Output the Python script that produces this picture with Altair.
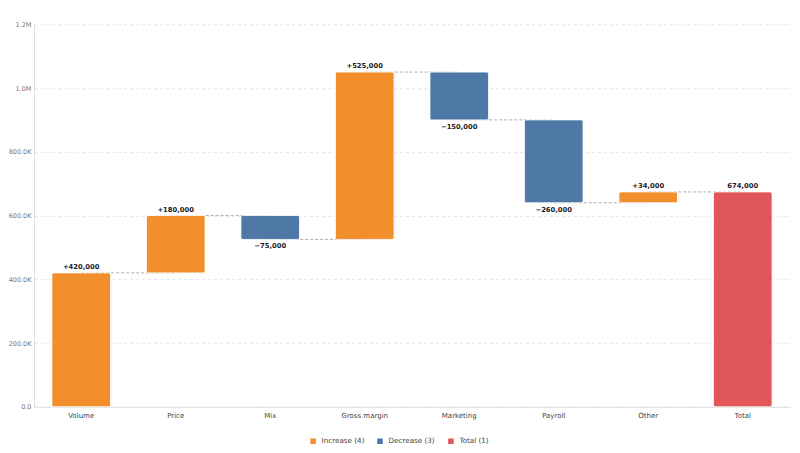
import altair as alt
import pandas as pd

categories = ["Volume", "Price", "Mix", "Gross margin", "Marketing", "Payroll", "Other", "Total"]
amounts = [420000, 180000, -75000, 525000, -150000, -260000, 34000, 674000]
kinds = ["Increase", "Increase", "Decrease", "Increase", "Decrease", "Decrease", "Increase", "Total"]
y_ticks = [0, 200000, 400000, 600000, 800000, 1000000, 1200000]

counts = {k: kinds.count(k) for k in ["Increase", "Decrease", "Total"]}
legend_names = {k: f"{k} ({counts[k]})" for k in counts}

rows = []
running = 0
for i, (c, a, k) in enumerate(zip(categories, amounts, kinds)):
    if k == "Total":
        start, end = 0, a
        label = f"{a:,}"
    else:
        start, end = running, running + a
        running = end
        label = f"+{a:,}" if a >= 0 else f"\u2212{abs(a):,}"
    nxt = categories[i + 1] if i + 1 < len(categories) else None
    rows.append(dict(cat=c, start=start, end=end, kind=k, legend=legend_names[k],
                     label=label, top=max(start, end), bottom=min(start, end),
                     up=(k != "Decrease"), nxt=nxt))
df = pd.DataFrame(rows)

FONT = "DejaVu Sans"
order = categories
leg_domain = [legend_names["Increase"], legend_names["Decrease"], legend_names["Total"]]
leg_range = ["#F28E2B", "#4E79A7", "#E15759"]

x = alt.X("cat:N", sort=order, title=None,
          scale=alt.Scale(paddingInner=0.38, paddingOuter=0.19),
          axis=alt.Axis(labelAngle=0, labelAlign="center", ticks=False, domainColor="#dddddd",
                        labelColor="#444444", labelFontSize=7, labelFont=FONT, labelPadding=9))

base = alt.Chart(df)

conn = base.transform_filter("datum.nxt != null").mark_rule(
    color="#999999", strokeDash=[3, 2], strokeWidth=0.8
).encode(
    x=alt.X("cat:N", sort=order),
    x2=alt.X2("nxt:N"),
    y=alt.Y("end:Q"),
)

bars = base.mark_bar(cornerRadius=2, stroke="#ffffff", strokeWidth=0.8).encode(
    x=x,
    y=alt.Y("start:Q", title=None,
            scale=alt.Scale(domain=[0, 1200000], nice=False),
            axis=alt.Axis(values=y_ticks, grid=True, gridDash=[3, 3], gridColor="#e6e6e6",
                          ticks=False, domainColor="#dddddd", labelColor="#777777",
                          labelFontSize=6.5, labelFont=FONT, labelPadding=3,
                          labelExpr="datum.value >= 1000000 ? format(datum.value/1000000, '.1f') + 'M' : (datum.value == 0 ? '0.0' : format(datum.value/1000, '.1f') + 'K')")),
    y2="end:Q",
    color=alt.Color("legend:N", scale=alt.Scale(domain=leg_domain, range=leg_range),
                    legend=alt.Legend(title=None, orient="none", direction="horizontal",
                                      legendX=275, legendY=413, symbolType="square",
                                      symbolSize=49, labelFontSize=7.2, labelFont=FONT,
                                      labelColor="#444444", columnPadding=9, labelOffset=4)),
)

up_labels = base.transform_filter("datum.up").mark_text(
    dy=-6, fontSize=6.8, fontWeight="bold", font=FONT, color="#222222"
).encode(x=alt.X("cat:N", sort=order), y="top:Q", text="label:N")

down_labels = base.transform_filter("!datum.up").mark_text(
    dy=7, fontSize=6.8, fontWeight="bold", font=FONT, color="#222222"
).encode(x=alt.X("cat:N", sort=order), y="bottom:Q", text="label:N")

chart = alt.layer(conn, bars, up_labels, down_labels).properties(
    width=757, height=383,
    padding={"left": 0, "top": 13, "right": 2, "bottom": 2},
).configure_view(stroke=None)

chart.save("out.html", embed_options={"renderer": "svg", "actions": False})
